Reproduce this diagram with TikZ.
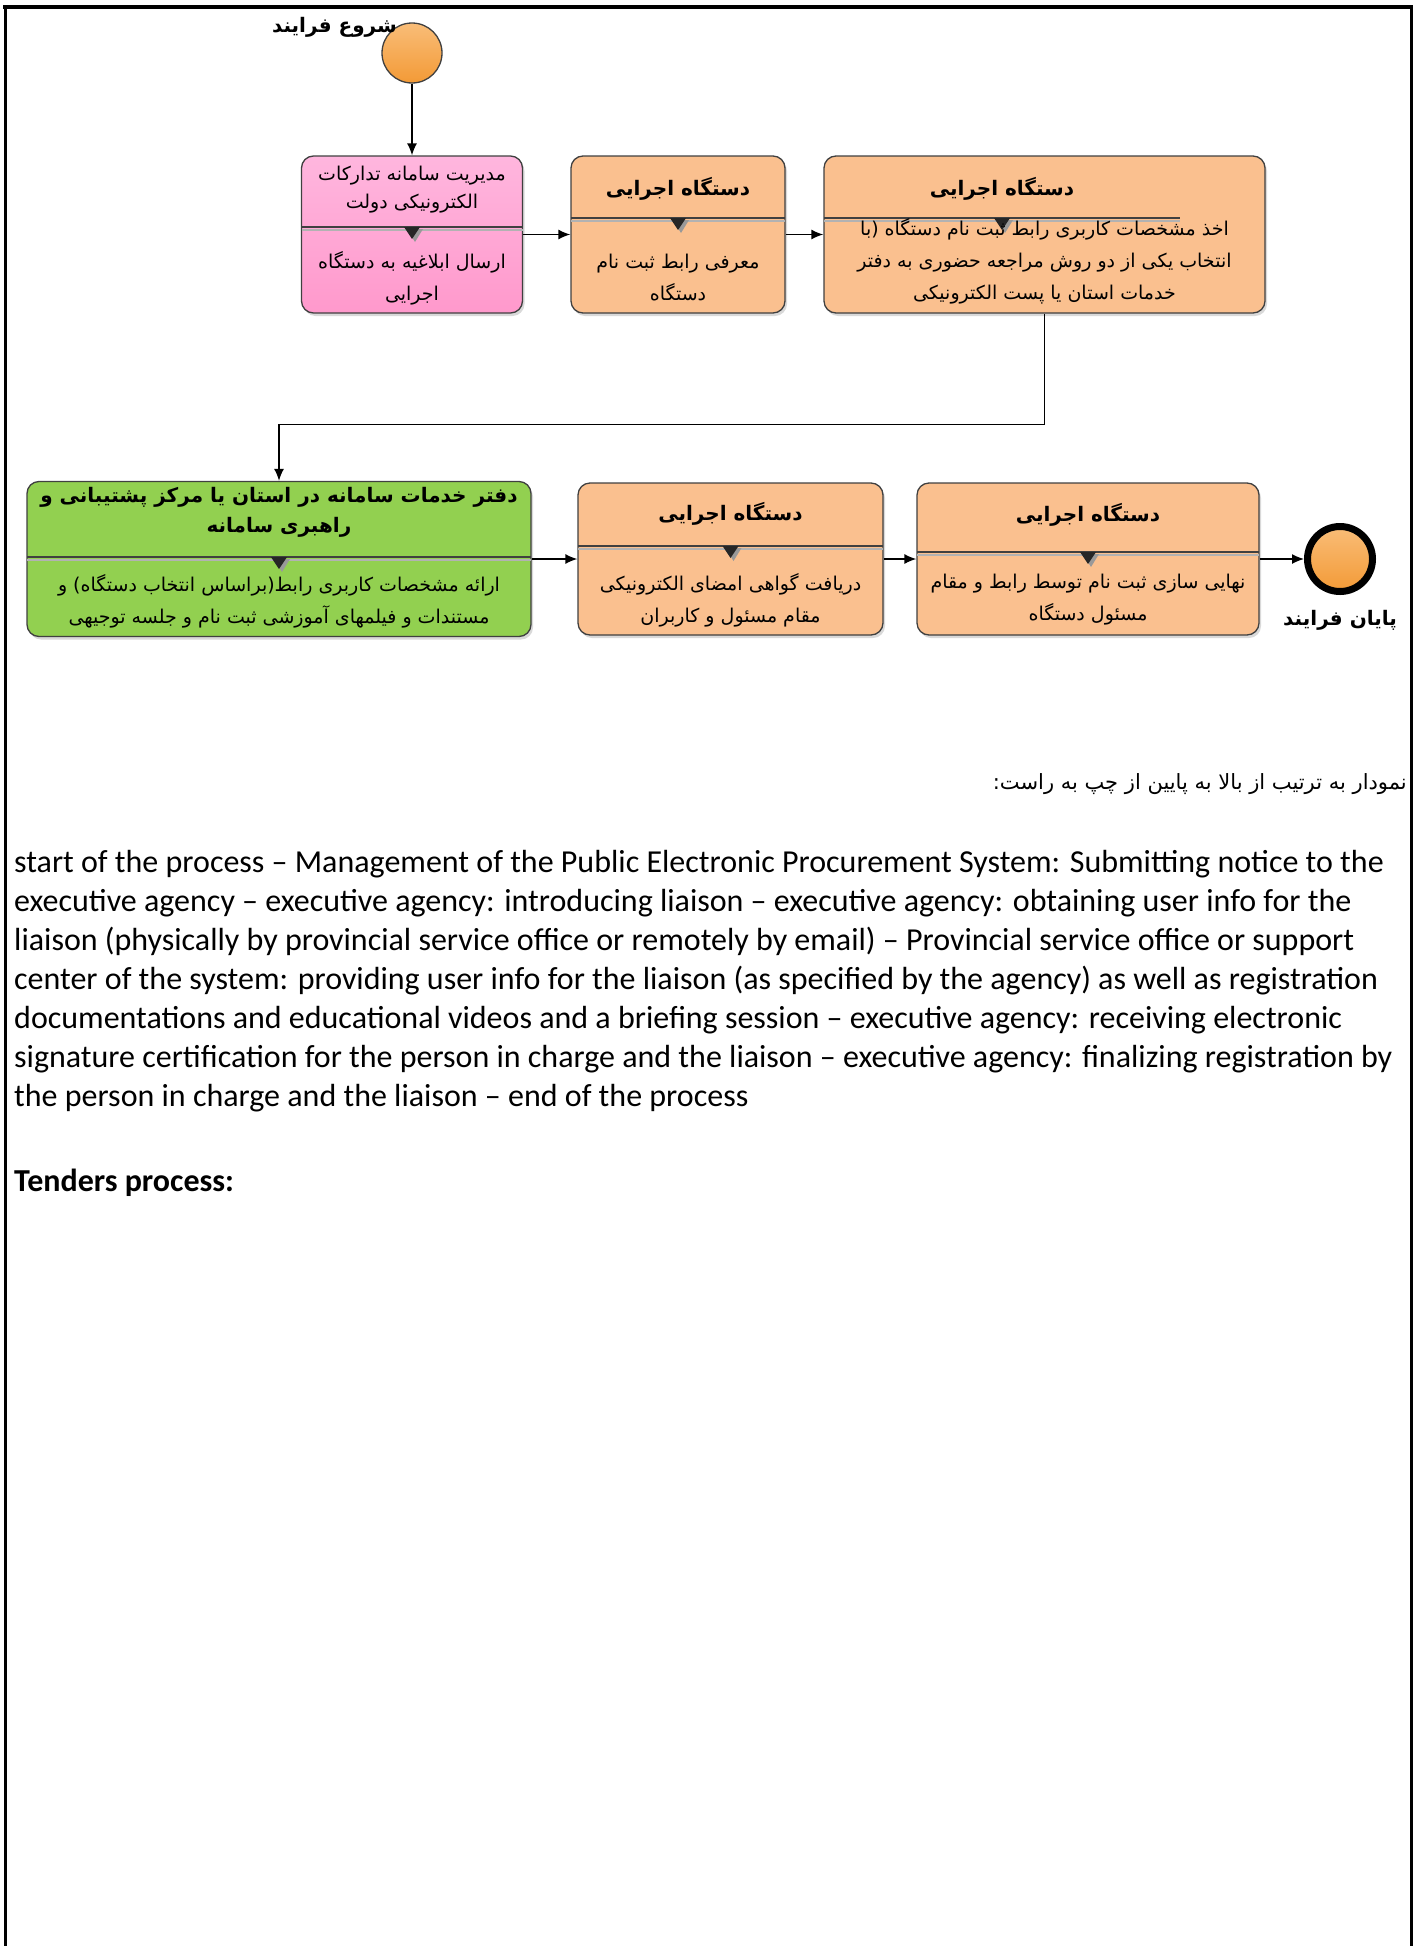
\documentclass[tikz,border=0pt]{standalone}
\usepackage{fontspec}
\setmainfont{Carlito}
\newfontfamily\farsifont[Script=Arabic]{DejaVu Sans}
\TeXXeTstate=1
\usepackage{tikz}
\usetikzlibrary{arrows.meta, positioning, shadows}
\definecolor{Task_Orange}{HTML}{FAC08F}
\definecolor{Task_PinkTop}{HTML}{FFB6DE}
\definecolor{Task_Pink}{HTML}{FF99CC}
\definecolor{Task_Green}{HTML}{92D050}
\definecolor{Event_Top}{HTML}{F9BD78}
\definecolor{Event_Orange}{HTML}{F39A36}
\newcommand{\fa}[1]{\beginR #1\endR}
% double rule between the lane name and the task
\newcommand{\laneline}[3]{%
  \draw[black!75, line width=1.3pt] (#1,#3) -- (#2,#3);
  \draw[black!30, line width=1.2pt] (#1,#3+3) -- (#2,#3+3);}
% small marker on the rule
\newcommand{\lanemark}[2]{%
  \fill[black!40] (#1-5,#2+2) -- (#1+11,#2+2) -- (#1+3,#2+15) -- cycle;
  \fill[black!85] (#1-8,#2) -- (#1+8,#2) -- (#1,#2+12) -- cycle;}
\tikzset{
  task/.style={draw=black!75, line width=1.3pt, rounded corners=12pt,
    drop shadow={shadow xshift=2pt, shadow yshift=-3pt, opacity=0.3}},
  event/.style={circle, draw=black!75, line width=1.3pt,
    top color=Event_Top, bottom color=Event_Orange},
  head/.style={font=\farsifont\bfseries\fontsize{20}{30}\selectfont, align=center, inner sep=0},
  body/.style={font=\farsifont\fontsize{19}{32}\selectfont, align=center, inner sep=0},
  evlabel/.style={font=\farsifont\bfseries\fontsize{20}{24}\selectfont, inner sep=0},
  flow/.style={-{Latex[length=12pt,width=10pt]}, line width=1.4pt, black}
}
\begin{document}
\begin{tikzpicture}[x=1pt, y=-1pt]
    \useasboundingbox (0,0) rectangle (1418,1946);
    % page frame
    \draw[line width=4pt] (3,7) -- (1411,7);
    \draw[line width=3pt] (5.5,5) -- (5.5,1946);
    \draw[line width=3pt] (1411,5) -- (1411,1946);
    % start event
    \node[event, minimum size=60pt] (start) at (412,53) {};
    \node[evlabel, anchor=east] (startlbl) at (397,27) {\fa{شروع فرایند}};
    % first row of tasks
    \node[task, top color=Task_PinkTop, bottom color=Task_Pink, minimum width=221pt, minimum height=157pt] (b1) at (412,234.5) {};
    \node[task, fill=Task_Orange, minimum width=214pt, minimum height=157pt] (b2) at (678,234.5) {};
    \node[task, fill=Task_Orange, minimum width=441pt, minimum height=157pt] (b3) at (1044.5,234.5) {};
    \laneline{301.5}{522.5}{227} \lanemark{412}{227}
    \laneline{571}{785}{218} \lanemark{678}{218}
    \laneline{824}{1180}{218} \lanemark{1002}{218}
    \node[body, font=\farsifont\fontsize{19}{28}\selectfont] (b1t) at (412,190) {\fa{مدیریت سامانه تدارکات}\\\fa{الکترونیکی دولت}};
    \node[body] (b1b) at (412,278) {\fa{ارسال ابلاغیه به دستگاه}\\\fa{اجرایی}};
    \node[head] (b2t) at (678,189) {\fa{دستگاه اجرایی}};
    \node[body] (b2b) at (678,278) {\fa{معرفی رابط ثبت نام}\\\fa{دستگاه}};
    \node[head] (b3t) at (1002,189) {\fa{دستگاه اجرایی}};
    \node[body] (b3b) at (1044.5,261) {\fa{اخذ مشخصات کاربری رابط ثبت نام دستگاه (با}\\\fa{انتخاب یکی از دو روش مراجعه حضوری به دفتر}\\\fa{خدمات استان یا پست الکترونیکی}};
    % second row of tasks
    \node[task, fill=Task_Green, minimum width=504pt, minimum height=155pt] (b4) at (279,559) {};
    \node[task, fill=Task_Orange, minimum width=305pt, minimum height=152pt] (b5) at (730.5,559) {};
    \node[task, fill=Task_Orange, minimum width=342pt, minimum height=152pt] (b6) at (1088,559) {};
    \laneline{27}{531}{557} \lanemark{279}{557}
    \laneline{578}{883}{546} \lanemark{730.5}{546}
    \laneline{917}{1259}{552} \lanemark{1088}{552}
    \node[head] (b4t) at (279,512) {\fa{دفتر خدمات سامانه در استان یا مرکز پشتیبانی و}\\\fa{راهبری سامانه}};
    \node[body] (b4b) at (279,601) {\fa{ارائه مشخصات کاربری رابط(براساس انتخاب دستگاه) و}\\\fa{مستندات و فیلمهای آموزشی ثبت نام و جلسه توجیهی}};
    \node[head] (b5t) at (730.5,514) {\fa{دستگاه اجرایی}};
    \node[body] (b5b) at (730.5,600) {\fa{دریافت گواهی امضای الکترونیکی}\\\fa{مقام مسئول و کاربران}};
    \node[head] (b6t) at (1088,515) {\fa{دستگاه اجرایی}};
    \node[body] (b6b) at (1088,600) {\fa{نهایی سازی ثبت نام توسط رابط و مقام}\\\fa{مسئول دستگاه}};
    % end event
    \node[event, line width=7pt, draw=black, minimum size=65pt] (end) at (1340,559) {};
    \node[evlabel] (endlbl) at (1340,620) {\fa{پایان فرایند}};
    % sequence flows
    \draw[flow] (start) -- (b1);
    \draw[flow] (b1) -- (b2);
    \draw[flow] (b2) -- (b3);
    \draw[flow] (b3.south) -- ++(0,111) -| (b4.north);
    \draw[flow] (b4) -- (b5);
    \draw[flow] (b5) -- (b6);
    \draw[flow] (b6) -- (end);
    % text under the diagram
    \node[anchor=east, inner sep=0, font=\farsifont\fontsize{21}{26}\selectfont] (note) at (1407,784) {\fa{نمودار به ترتیب از بالا به پایین از چپ به راست:}};
    \node[anchor=north west, align=left, inner sep=0, font=\fontsize{32}{39}\selectfont] (summary) at (14,850) {start of the process – Management of the Public Electronic Procurement System: Submitting notice to the\\
executive agency – executive agency: introducing liaison – executive agency: obtaining user info for the\\
liaison (physically by provincial service office or remotely by email) – Provincial service office or support\\
center of the system: providing user info for the liaison (as specified by the agency) as well as registration\\
documentations and educational videos and a briefing session – executive agency: receiving electronic\\
signature certification for the person in charge and the liaison – executive agency: finalizing registration by\\
the person in charge and the liaison – end of the process};
    \node[anchor=base west, inner sep=0, font=\bfseries\fontsize{32}{38}\selectfont] (tenders) at (14,1191) {Tenders process:};
\end{tikzpicture}
\end{document}
